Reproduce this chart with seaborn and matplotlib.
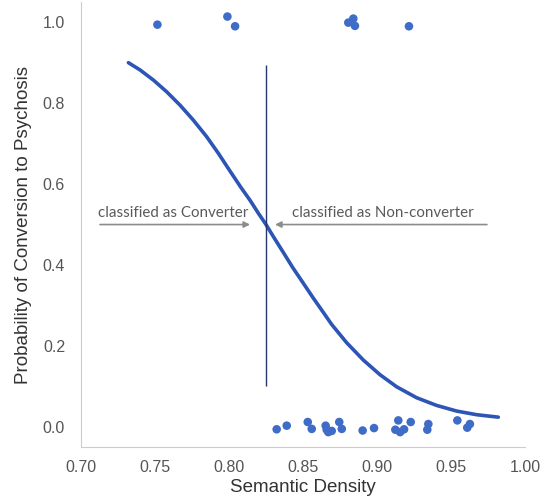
import matplotlib
matplotlib.use('Agg')
import matplotlib.pyplot as plt
import seaborn as sns
import pandas as pd

# puntos observados (densidad semántica vs. conversión 0/1 con jitter)
conv_x = [0.7516, 0.7989, 0.8041, 0.8806, 0.8840, 0.8851, 0.9216]
conv_y = [0.994, 1.014, 0.990, 0.999, 1.009, 0.991, 0.990]

noconv_x = [0.8322, 0.8390, 0.8532, 0.8559, 0.8653, 0.8660, 0.8671, 0.8694,
            0.8745, 0.8762, 0.8903, 0.8980, 0.9124, 0.9144, 0.9156, 0.9183,
            0.9228, 0.9340, 0.9347, 0.9543, 0.9610, 0.9628]
noconv_y = [-0.006, 0.003, 0.012, -0.005, 0.003, -0.007, -0.013, -0.010,
            0.012, -0.005, -0.009, -0.003, -0.007, 0.016, -0.013, -0.006,
            0.012, -0.007, 0.007, 0.016, -0.002, 0.007]

# curva logística
curva_x = [0.7320, 0.7399, 0.7489, 0.7579, 0.7669, 0.7759, 0.7849, 0.7928,
           0.8007, 0.8080, 0.8142, 0.8200, 0.8250, 0.8300, 0.8367, 0.8430,
           0.8502, 0.8570, 0.8637, 0.8694, 0.8795, 0.8908, 0.9020, 0.9133,
           0.9268, 0.9403, 0.9539, 0.9674, 0.9820]
curva_y = [0.900, 0.882, 0.857, 0.828, 0.795, 0.758, 0.717, 0.676,
           0.632, 0.592, 0.560, 0.527, 0.500, 0.470, 0.431, 0.394,
           0.355, 0.318, 0.283, 0.253, 0.208, 0.165, 0.129, 0.099,
           0.072, 0.053, 0.039, 0.030, 0.024]

umbral = 0.825
umbral_rango = (0.10, 0.895)

texto_izq = 'classified as Converter'
texto_der = 'classified as Non-converter'

puntos = pd.DataFrame({'x': conv_x + noconv_x, 'y': conv_y + noconv_y})
curva = pd.DataFrame({'x': curva_x, 'y': curva_y})

sns.set_style('white')
plt.rcParams['font.family'] = ['Liberation Sans', 'DejaVu Sans']
fig, ax = plt.subplots(figsize=(5.44, 4.99), dpi=100)
fig.subplots_adjust(left=0.149, right=0.965, bottom=0.104, top=0.996)

sns.scatterplot(data=puntos, x='x', y='y', ax=ax, color='#3F6CC7', s=38,
                edgecolor='none', zorder=3)
sns.lineplot(data=curva, x='x', y='y', ax=ax, color='#2C55B5', linewidth=2.6,
             sort=False, estimator=None, zorder=2,
             solid_joinstyle='round', solid_capstyle='round')

ax.vlines(umbral, umbral_rango[0], umbral_rango[1], color='#27356E', linewidth=1)

# flechas de clasificación
flecha = dict(arrowstyle='-|>', color='#8C8C8C', lw=1.2, mutation_scale=9,
              shrinkA=0, shrinkB=0)
ax.annotate('', xy=(0.8142, 0.5), xytext=(0.7128, 0.5), arrowprops=flecha)
ax.annotate('', xy=(0.8311, 0.5), xytext=(0.9743, 0.5), arrowprops=flecha)
ax.text(0.7116, 0.512, texto_izq, fontsize=10.9, color='#5A5A5A',
        family=['Lato', 'DejaVu Sans'], va='bottom', ha='left')
ax.text(0.8428, 0.512, texto_der, fontsize=10.9, color='#5A5A5A',
        family=['Lato', 'DejaVu Sans'], va='bottom', ha='left')

ax.set_xlim(0.70, 1.00)
ax.set_ylim(-0.05, 1.05)
ax.set_xticks([0.70, 0.75, 0.80, 0.85, 0.90, 0.95, 1.00])
ax.set_yticks([0.0, 0.2, 0.4, 0.6, 0.8, 1.0])
ax.set_xticklabels(['0.70', '0.75', '0.80', '0.85', '0.90', '0.95', '1.00'])
ax.set_yticklabels(['0.0', '0.2', '0.4', '0.6', '0.8', '1.0'])
ax.tick_params(labelsize=11.5, labelcolor='#555555', pad=8)
ax.tick_params(axis='x', pad=6)
ax.set_xlabel('Semantic Density', fontsize=13.5, color='#333333', labelpad=3)
ax.set_ylabel('Probability of Conversion to Psychosis', fontsize=13.5,
              color='#333333', labelpad=8)
sns.despine(ax=ax)
for lado in ['left', 'bottom']:
    ax.spines[lado].set_color('#CCCCCC')

fig.savefig('out.png', dpi=100)
